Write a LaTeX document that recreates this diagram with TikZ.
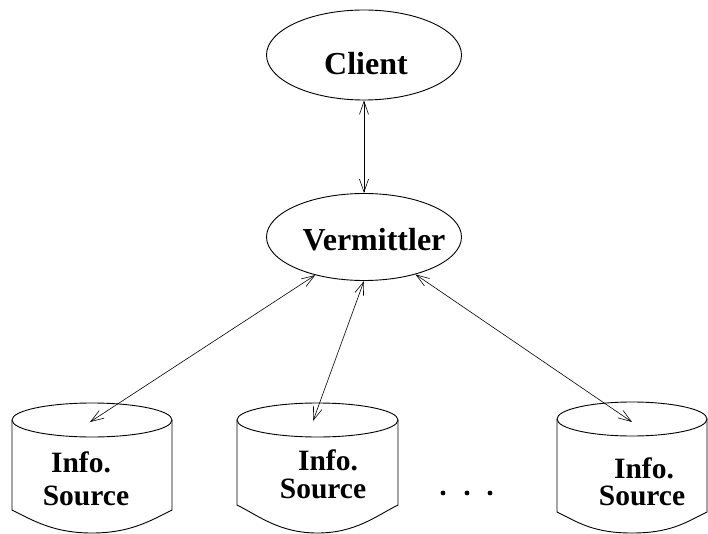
\documentclass[tikz,border=0pt]{standalone}
\usepackage{fontspec}
\setmainfont{Liberation Serif}
\usetikzlibrary{arrows.meta,shapes.geometric}
\begin{document}
\begin{tikzpicture}[x=1pt,y=-1pt,line width=0.9pt,
  blob/.style={ellipse,draw,inner sep=0pt,minimum width=195pt,minimum height=#1},
  lbl/.style={font=\bfseries\fontsize{32}{36}\selectfont,inner sep=0pt},
  srclbl/.style={font=\bfseries\fontsize{29.5}{33}\selectfont,inner sep=0pt,anchor=base},
  link/.style={{Straight Barb[length=13pt,width=9pt]}-{Straight Barb[length=13pt,width=9pt]},line width=0.6pt}]
\useasboundingbox (0,0) rectangle (708,534);

% client and mediator
\node[blob=90pt] (client) at (364,55) {};
\node[lbl] (clienttxt) at (366,64) {Client};
\node[blob=87pt] (verm) at (364,237) {};
\node[lbl] (vermtxt) at (374,240) {Vermittler};

% information sources drawn as cylinders
\newcommand{\infosource}[5]{% #1 name, #2 centre x, #3 half width, #4 side bottom y, #5 top centre y
  \draw (#2,#5) ellipse [x radius=#3, y radius=17];
  \draw (#2-#3,#5) -- (#2-#3,#4)
        .. controls (#2-#3+22,#4+11) and (#2-38,533) .. (#2,533)
        .. controls (#2+38,533) and (#2+#3-22,#4+11) .. (#2+#3,#4)
        -- (#2+#3,#5);
}
\infosource{s1}{92}{80}{510}{420}
\infosource{s2}{317.5}{80.5}{505}{420}
\infosource{s3}{632}{75}{512}{419}

\coordinate (s1top) at (90,422);
\coordinate (s2top) at (313,421);
\coordinate (s3top) at (632,422);

\node[srclbl] (s1a) at (81,472) {Info.};
\node[srclbl] (s1b) at (86,505) {Source};
\node[srclbl] (s2a) at (328,470) {Info.};
\node[srclbl] (s2b) at (323,498) {Source};
\node[srclbl] (s3a) at (644,478) {Info.};
\node[srclbl] (s3b) at (642,505) {Source};

% ellipsis between the sources
\foreach \x in {443,467,490} \fill (\x,493) circle (2.4);

% connections
\draw[link] (client.south) -- (verm.north);
\draw[link] (verm.218) -- (s1top);
\draw[link] (verm.south) -- (s2top);
\draw[link] (verm.-36) -- (s3top);
\end{tikzpicture}
\end{document}
